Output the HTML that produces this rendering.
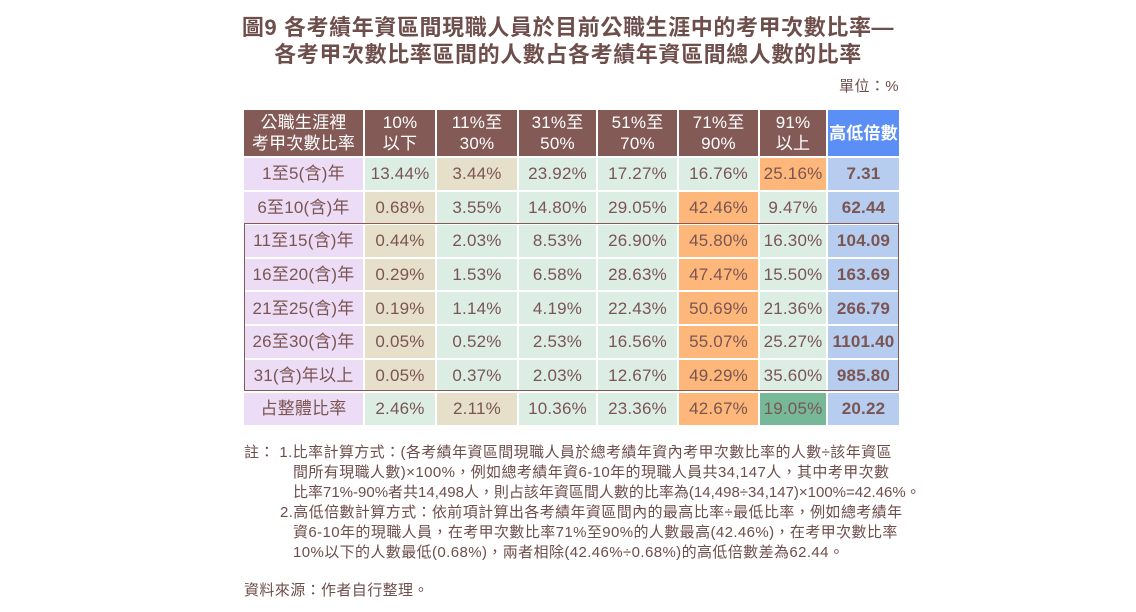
<!DOCTYPE html>
<html><head><meta charset="utf-8">
<style>
body{margin:0;width:1136px;height:612px;background:#fff;position:relative;overflow:hidden;font-family:"Liberation Sans","Noto Sans CJK TC",sans-serif;color:#7a5552}
.t{position:absolute;left:0;width:1136px;text-align:center;font-weight:bold;font-size:22px;letter-spacing:0.6px;color:#6e4e4b;line-height:27px}
.g{position:absolute;left:244px;top:110px;display:grid;grid-template-columns:119px 70px 80px 77px 79px 79px 66px 71px;grid-template-rows:46px repeat(8,31.6px);gap:2px}
.g div{display:flex;align-items:center;justify-content:center;font-size:17px;text-align:center;line-height:21px;letter-spacing:0.2px}
.h{background:#845a57;color:#fff}
.hb{background:#5b8ff5;color:#fff;font-weight:bold}
.l{background:#ecdcf5}
.a{background:#dcede4}
.b{background:#e6dfca}
.o{background:#fdb77a}
.gr{background:#77b899}
.v{background:#b6cdf0;font-weight:bold}
.box{position:absolute;left:244px;top:223px;width:653px;height:166px;border:1.5px solid #845a57}
.n{position:absolute;font-size:15px;letter-spacing:0.4px;line-height:20px;white-space:nowrap;color:#6e4e4b}
</style></head><body>
<div class="t" style="top:14px">圖9 各考績年資區間現職人員於目前公職生涯中的考甲次數比率—</div>
<div class="t" style="top:41px">各考甲次數比率區間的人數占各考績年資區間總人數的比率</div>
<div class="n" style="right:237px;top:77px;font-size:15px">單位：%</div>
<div class="g">
<div class="h">公職生涯裡<br>考甲次數比率</div><div class="h">10%<br>以下</div><div class="h">11%至<br>30%</div><div class="h">31%至<br>50%</div><div class="h">51%至<br>70%</div><div class="h">71%至<br>90%</div><div class="h">91%<br>以上</div><div class="hb">高低倍數</div>
<div class="l">1至5(含)年</div><div class="a">13.44%</div><div class="b">3.44%</div><div class="a">23.92%</div><div class="a">17.27%</div><div class="a">16.76%</div><div class="o">25.16%</div><div class="v">7.31</div>
<div class="l">6至10(含)年</div><div class="b">0.68%</div><div class="a">3.55%</div><div class="a">14.80%</div><div class="a">29.05%</div><div class="o">42.46%</div><div class="a">9.47%</div><div class="v">62.44</div>
<div class="l">11至15(含)年</div><div class="b">0.44%</div><div class="a">2.03%</div><div class="a">8.53%</div><div class="a">26.90%</div><div class="o">45.80%</div><div class="a">16.30%</div><div class="v">104.09</div>
<div class="l">16至20(含)年</div><div class="b">0.29%</div><div class="a">1.53%</div><div class="a">6.58%</div><div class="a">28.63%</div><div class="o">47.47%</div><div class="a">15.50%</div><div class="v">163.69</div>
<div class="l">21至25(含)年</div><div class="b">0.19%</div><div class="a">1.14%</div><div class="a">4.19%</div><div class="a">22.43%</div><div class="o">50.69%</div><div class="a">21.36%</div><div class="v">266.79</div>
<div class="l">26至30(含)年</div><div class="b">0.05%</div><div class="a">0.52%</div><div class="a">2.53%</div><div class="a">16.56%</div><div class="o">55.07%</div><div class="a">25.27%</div><div class="v">1101.40</div>
<div class="l">31(含)年以上</div><div class="b">0.05%</div><div class="a">0.37%</div><div class="a">2.03%</div><div class="a">12.67%</div><div class="o">49.29%</div><div class="a">35.60%</div><div class="v">985.80</div>
<div class="l">占整體比率</div><div class="a">2.46%</div><div class="b">2.11%</div><div class="a">10.36%</div><div class="a">23.36%</div><div class="o">42.67%</div><div class="gr">19.05%</div><div class="v">20.22</div>
</div>
<div class="box"></div>
<div class="n" style="left:244px;top:443px">註： 1.比率計算方式：(各考績年資區間現職人員於總考績年資內考甲次數比率的人數÷該年資區</div>
<div class="n" style="left:293px;top:463px">間所有現職人數)×100%，例如總考績年資6-10年的現職人員共34,147人，其中考甲次數</div>
<div class="n" style="left:293px;top:483px;letter-spacing:0">比率71%-90%者共14,498人，則占該年資區間人數的比率為(14,498÷34,147)×100%=42.46%。</div>
<div class="n" style="left:280px;top:503px">2.高低倍數計算方式：依前項計算出各考績年資區間內的最高比率÷最低比率，例如總考績年</div>
<div class="n" style="left:293px;top:523px">資6-10年的現職人員，在考甲次數比率71%至90%的人數最高(42.46%)，在考甲次數比率</div>
<div class="n" style="left:293px;top:543px">10%以下的人數最低(0.68%)，兩者相除(42.46%÷0.68%)的高低倍數差為62.44。</div>
<div class="n" style="left:244px;top:581px">資料來源：作者自行整理。</div>
</body></html>
